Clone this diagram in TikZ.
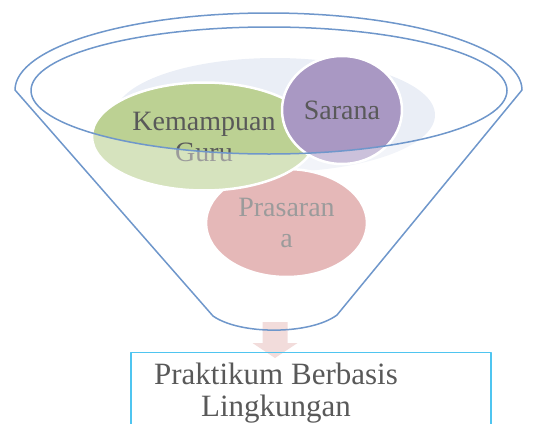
\documentclass[tikz,border=0pt]{standalone}
\usepackage{fontspec}
\setmainfont{Liberation Serif}
\usetikzlibrary{shapes.geometric}
\definecolor{funnelblue}{HTML}{6F97CB}
\definecolor{rimfill}{HTML}{EAEEF6}
\definecolor{greenfill}{HTML}{BCD193}
\definecolor{purplefill}{HTML}{A998C3}
\definecolor{pinkfill}{HTML}{D5898A}
\definecolor{arrowfill}{HTML}{F2DCDB}
\definecolor{boxcyan}{HTML}{4FC5F0}
\definecolor{txtgrey}{HTML}{595959}
\begin{document}
\begin{tikzpicture}[x=1pt,y=1pt,line join=round,line cap=round,
	bubble/.style={ellipse,draw=white,line width=2.5pt,inner sep=0pt,text=txtgrey,align=center,font=\fontsize{28}{31}\selectfont},
	funnel/.style={draw=funnelblue,line width=1.5pt}]
	\clip (0,0) rectangle (535,-423);
	\fill[rimfill] (275,-115) ellipse [x radius=160, y radius=57];
	\node[bubble,fill=pinkfill,minimum width=161,minimum height=108] (prasarana) at (286.5,-223) {Prasaran\\a};
	\node[bubble,fill=greenfill,minimum width=224,minimum height=108] (guru) at (204,-136.5) {Kemampuan\\Guru};
	\node[bubble,fill=purplefill,minimum width=120,minimum height=108] (sarana) at (342,-110) {Sarana};
	\fill[white,opacity=0.4,even odd rule] (15,-90) arc[start angle=180,end angle=0,x radius=253.5,y radius=77]
		-- (337,-315) .. controls (310,-335) and (240,-335) .. (213,-316) -- cycle
		(269,-90.5) ellipse [x radius=238, y radius=63.5];
	\fill[arrowfill] (262.5,-322) -- (287.5,-322) -- (287.5,-343) -- (297.5,-343) -- (275,-358)
		-- (252.5,-343) -- (262.5,-343) -- cycle;
	\draw[funnel] (15,-90) arc[start angle=180,end angle=0,x radius=253.5,y radius=77]
		-- (337,-315) .. controls (310,-335) and (240,-335) .. (213,-316) -- cycle;
	\draw[funnel] (269,-90.5) ellipse [x radius=238, y radius=63.5];
	\draw[boxcyan,line width=1.6pt] (131,-440) -- (131,-352.5) -- (491,-352.5) -- (491,-440);
	\node[text=txtgrey,align=center,font=\fontsize{31}{32}\selectfont] (praktikum) at (276,-393) {Praktikum Berbasis\\Lingkungan};
\end{tikzpicture}
\end{document}
